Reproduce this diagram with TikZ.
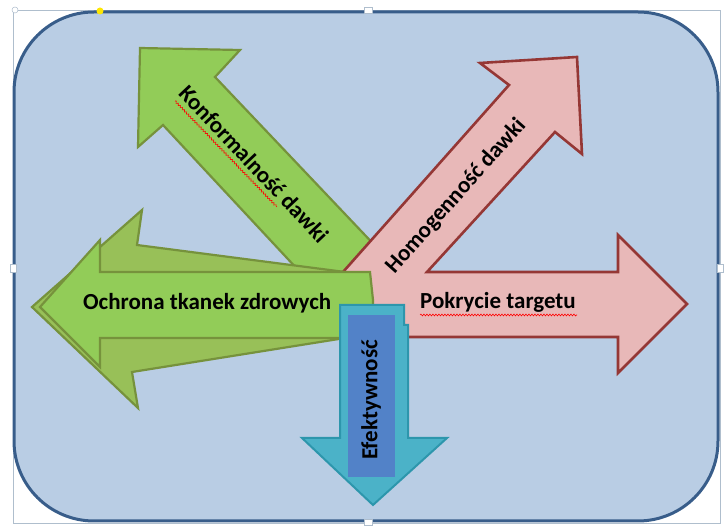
\documentclass[tikz,border=0pt]{standalone}
\usepackage{fontspec}
\setmainfont{Carlito}
\usetikzlibrary{decorations.pathmorphing}
\definecolor{bgfill}{RGB}{185,205,228}
\definecolor{bgline}{RGB}{56,93,138}
\definecolor{gfill}{RGB}{146,204,88}
\definecolor{gback}{RGB}{152,192,88}
\definecolor{gline}{RGB}{118,146,60}
\definecolor{pfill}{RGB}{232,184,184}
\definecolor{pline}{RGB}{149,55,53}
\definecolor{tfill}{RGB}{75,178,200}
\definecolor{tline}{RGB}{45,150,172}
\definecolor{bfill}{RGB}{82,130,200}
\definecolor{selline}{RGB}{175,190,205}
\begin{document}
\begin{tikzpicture}[x=1pt,y=-1pt,
  lbl/.style={font=\bfseries\fontsize{23}{23}\selectfont, text=black, inner sep=0pt},
  garrow/.style={fill=gfill, draw=gline, line width=2.2pt, line join=miter},
  gbackarrow/.style={fill=gback, draw=gline, line width=2.2pt, line join=miter},
  parrow/.style={fill=pfill, draw=pline, line width=2.6pt, line join=miter},
  tarrow/.style={fill=tfill, draw=tline, line width=2pt, line join=miter},
  squig/.style={draw=red, line width=0.6pt, decorate, decoration={snake, amplitude=0.9pt, segment length=3pt}},
  handle/.style={fill=white, draw=selline, line width=0.5pt}
]
\useasboundingbox (0,0) rectangle (724,526);
\fill[white] (0,0) rectangle (724,526);
% selection frame
\draw[selline, line width=0.7pt] (13,10) rectangle (720,523);
% background panel
\draw[fill=bgfill, draw=bgline, line width=3pt, rounded corners=80pt] (14,12) rectangle (718,521);
% handles
\filldraw[handle] (15,10) circle (3pt);
\filldraw[handle] (13,268) ++(-3,-4) rectangle ++(6,8);
\filldraw[handle] (720,268) ++(-3,-4) rectangle ++(6,8);
\filldraw[handle] (368,10) ++(-4,-3) rectangle ++(8,6);
\filldraw[handle] (368,522) ++(-4,-3) rectangle ++(8,6);
\fill[yellow!90!orange] (100,11) circle (3.5pt);

% Konformalnosc arrow (green, up-left)
\draw[garrow] (140,48) -- (240,50) -- (215,77) -- (400,272) -- (300,272) -- (163,125) -- (138,147) -- cycle;
% pink arrows (Homogennosc + Pokrycie)
\draw[parrow] (343,272) -- (509,85) -- (480,63) -- (577,57) -- (582,154) -- (555,132) -- (427,272)
  -- (618,272) -- (618,235) -- (687,304) -- (618,373) -- (618,337) -- (370,337) -- (340,300) -- cycle;
% Ochrona arrow (green, left, layered)
\draw[gbackarrow] (32,307) -- (142,210) -- (137,245) -- (345,272) -- (345,338) -- (132,372) -- (138,408) -- cycle;
\draw[garrow] (40,307) -- (100,240) -- (100,272) -- (370,272) -- (373,300) -- (373,338) -- (100,338) -- (100,367) -- cycle;
% Efektywnosc arrow (blue, down)
\draw[tarrow] (340,305) -- (404,305) -- (404,325) -- (408,325) -- (408,438) -- (447,438) -- (373,505) -- (302,438) -- (340,438) -- cycle;
\fill[bfill] (348,315) rectangle (395,477);

% labels
\node[lbl, rotate=-46.7] (konf) at (254,164) {Konformalność dawki};
\node[lbl, rotate=48.4] (homo) at (456,196) {Homogenność dawki};
\node[lbl, anchor=base west] (ochr) at (83,310) {Ochrona tkanek zdrowych};
\node[lbl, anchor=base west] (pokr) at (420,309) {Pokrycie targetu};
\node[lbl, rotate=90] (efek) at (371,400) {Efektywność};
% spell-check underlines
\draw[squig] (175,101) -- (277,207);
\draw[squig] (420,315) -- (577,315);
\end{tikzpicture}
\end{document}
